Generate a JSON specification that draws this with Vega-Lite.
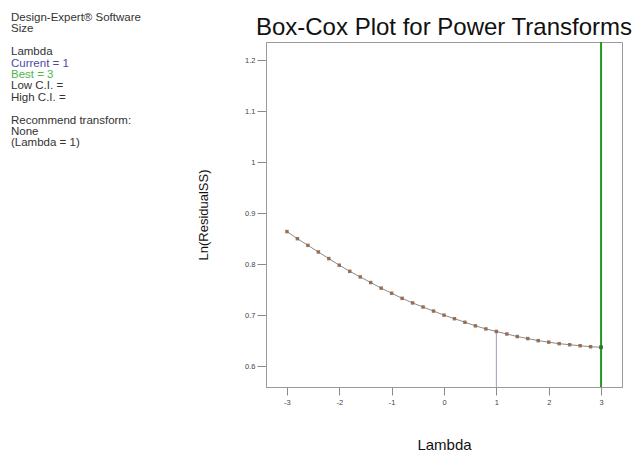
{
  "$schema": "https://vega.github.io/schema/vega-lite/v6.json",
  "background": "white",
  "padding": {"left": 11, "top": 12, "right": 0, "bottom": 0},
  "config": {
    "font": "Liberation Sans",
    "view": {"stroke": "#9a9a9a", "strokeWidth": 1}
  },
  "spacing": 22,
  "hconcat": [
    {
      "width": 164,
      "height": 345,
      "view": {"stroke": null},
      "data": {
        "values": [
          {"line": 0, "col": 0, "label": "Design-Expert® Software", "group": "plain"},
          {"line": 1, "col": 0, "label": "Size", "group": "plain"},
          {"line": 3, "col": 0, "label": "Lambda", "group": "plain"},
          {"line": 4, "col": 0, "label": "Current = 1", "group": "current"},
          {"line": 5, "col": 0, "label": "Best = 3", "group": "best"},
          {"line": 6, "col": 0, "label": "Low C.I. =", "group": "plain"},
          {"line": 7, "col": 0, "label": "High C.I. =", "group": "plain"},
          {"line": 9, "col": 0, "label": "Recommend transform:", "group": "plain"},
          {"line": 10, "col": 0, "label": "None", "group": "plain"},
          {"line": 11, "col": 0, "label": "\u00a0(Lambda = 1)", "group": "plain"}
        ]
      },
      "mark": {"type": "text", "align": "left", "baseline": "alphabetic", "fontSize": 11.5},
      "encoding": {
        "x": {"field": "col", "type": "quantitative", "scale": {"domain": [0, 1]}, "axis": null},
        "y": {"field": "line", "type": "quantitative", "scale": {"domain": [1.842, 32.105], "zero": false, "nice": false, "reverse": true}, "axis": null},
        "text": {"field": "label"},
        "color": {"field": "group", "type": "nominal", "legend": null,
          "scale": {"domain": ["plain", "current", "best"], "range": ["#333333", "#4a4aa8", "#4cb84c"]}}
      }
    },
    {
      "width": 356,
      "height": 345,
      "title": {
        "text": "Box-Cox Plot for Power Transforms",
        "fontSize": 24,
        "fontWeight": "normal",
        "color": "#111111",
        "anchor": "middle",
        "frame": "group",
        "offset": 1.5
      },
      "layer": [
        {
          "data": {"values": [{"lambda": 1, "lnrss": 0.668, "base": 0.559}]},
          "mark": {"type": "rule", "color": "#9a9ac8", "strokeWidth": 1},
          "encoding": {
            "x": {"field": "lambda", "type": "quantitative"},
            "y": {"field": "lnrss", "type": "quantitative"},
            "y2": {"field": "base"}
          }
        },
        {
          "data": {"name": "curve"},
          "mark": {"type": "line", "color": "#8c8c8c", "strokeWidth": 1},
          "encoding": {
            "x": {"field": "lambda", "type": "quantitative"},
            "y": {"field": "lnrss", "type": "quantitative"}
          }
        },
        {
          "data": {"name": "curve"},
          "mark": {"type": "point", "shape": "square", "filled": true, "size": 12, "color": "#8f6446", "opacity": 0.9},
          "encoding": {
            "x": {"field": "lambda", "type": "quantitative"},
            "y": {"field": "lnrss", "type": "quantitative"}
          }
        },
        {
          "data": {"values": [{"lambda": 3}]},
          "mark": {"type": "rule", "color": "#1f9a1f", "strokeWidth": 2},
          "encoding": {
            "x": {"field": "lambda", "type": "quantitative"}
          }
        },
        {
          "data": {"values": [{"lambda": 3, "lnrss": 0.637}]},
          "mark": {"type": "point", "shape": "square", "filled": true, "size": 14, "color": "#2f6a2f"},
          "encoding": {
            "x": {"field": "lambda", "type": "quantitative",
              "scale": {"domain": [-3.4, 3.4], "nice": false, "zero": false},
              "axis": {
                "values": [-3, -2, -1, 0, 1, 2, 3],
                "labelExpr": "toString(datum.value)",
                "grid": false,
                "tickSize": 8,
                "tickColor": "#8a8a8a",
                "domainColor": "#9a9a9a",
                "labelFontSize": 7.5,
                "labelColor": "#444444",
                "labelPadding": 3,
                "title": "Lambda",
                "titleFontSize": 15,
                "titleFontWeight": "normal",
                "titleColor": "#111111",
                "titlePadding": 32
              }
            },
            "y": {"field": "lnrss", "type": "quantitative",
              "scale": {"domain": [0.559, 1.236], "nice": false, "zero": false},
              "axis": {
                "values": [0.6, 0.7, 0.8, 0.9, 1, 1.1, 1.2],
                "format": ".1~f",
                "grid": false,
                "tickSize": 9,
                "tickColor": "#8a8a8a",
                "domainColor": "#9a9a9a",
                "labelFontSize": 7.5,
                "labelColor": "#444444",
                "labelPadding": 2,
                "title": "Ln(ResidualSS)",
                "titleFontSize": 13,
                "titleFontWeight": "normal",
                "titleColor": "#111111",
                "titlePadding": 34
              }
            }
          }
        }
      ]
    }
  ],
  "datasets": {
    "curve": [
      {"lambda": -3.0, "lnrss": 0.864},
      {"lambda": -2.8, "lnrss": 0.850},
      {"lambda": -2.6, "lnrss": 0.837},
      {"lambda": -2.4, "lnrss": 0.824},
      {"lambda": -2.2, "lnrss": 0.811},
      {"lambda": -2.0, "lnrss": 0.798},
      {"lambda": -1.8, "lnrss": 0.786},
      {"lambda": -1.6, "lnrss": 0.775},
      {"lambda": -1.4, "lnrss": 0.764},
      {"lambda": -1.2, "lnrss": 0.753},
      {"lambda": -1.0, "lnrss": 0.743},
      {"lambda": -0.8, "lnrss": 0.733},
      {"lambda": -0.6, "lnrss": 0.724},
      {"lambda": -0.4, "lnrss": 0.716},
      {"lambda": -0.2, "lnrss": 0.708},
      {"lambda": 0.0, "lnrss": 0.700},
      {"lambda": 0.2, "lnrss": 0.693},
      {"lambda": 0.4, "lnrss": 0.686},
      {"lambda": 0.6, "lnrss": 0.679},
      {"lambda": 0.8, "lnrss": 0.673},
      {"lambda": 1.0, "lnrss": 0.668},
      {"lambda": 1.2, "lnrss": 0.663},
      {"lambda": 1.4, "lnrss": 0.658},
      {"lambda": 1.6, "lnrss": 0.654},
      {"lambda": 1.8, "lnrss": 0.650},
      {"lambda": 2.0, "lnrss": 0.647},
      {"lambda": 2.2, "lnrss": 0.644},
      {"lambda": 2.4, "lnrss": 0.642},
      {"lambda": 2.6, "lnrss": 0.640},
      {"lambda": 2.8, "lnrss": 0.638},
      {"lambda": 3.0, "lnrss": 0.637}
    ]
  }
}
